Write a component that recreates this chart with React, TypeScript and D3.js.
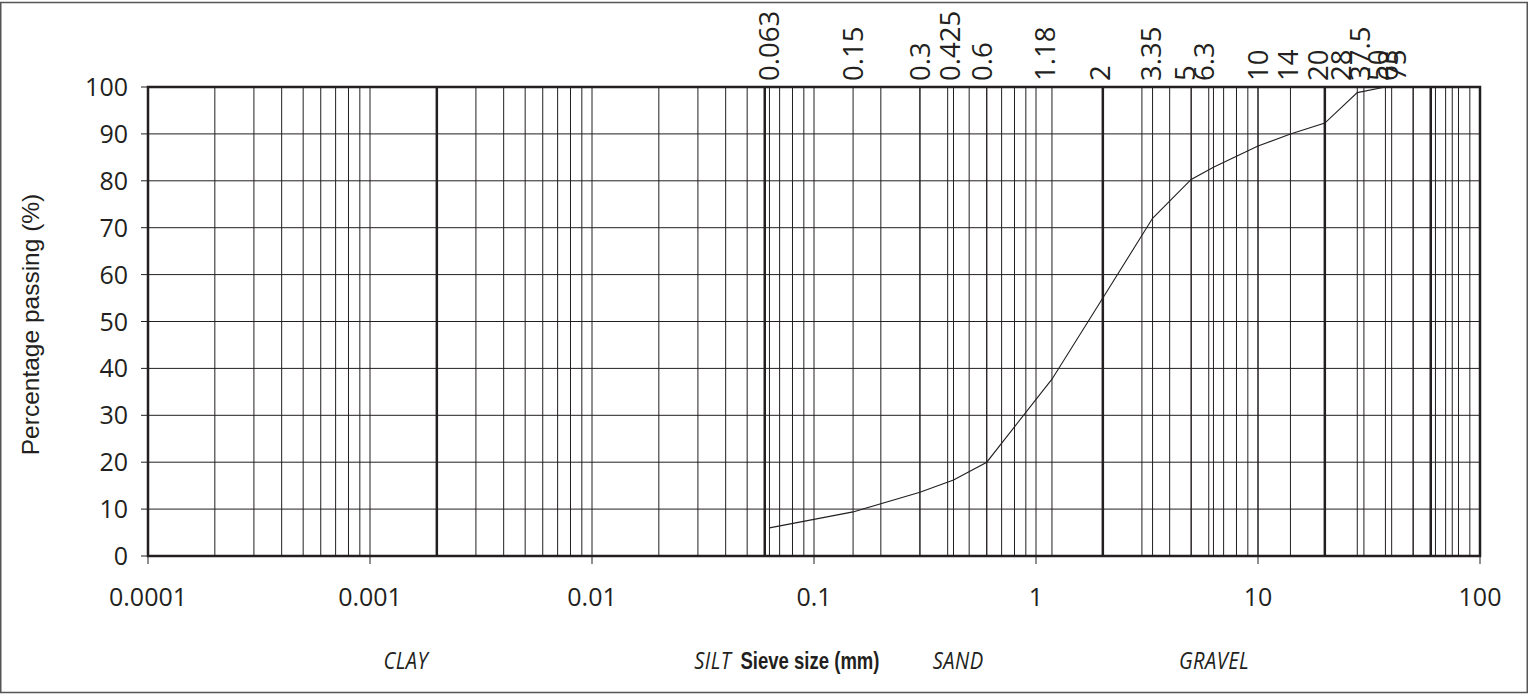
import { useRef, useEffect } from "react";
import * as d3 from "d3";

// sieve analysis, % passing by sieve size (mm)
const sieveSizes = [0.063, 0.15, 0.3, 0.425, 0.6, 1.18, 2, 3.35, 5, 6.3, 10, 14, 20, 28, 37.5, 50, 63, 75];
const percentPassing = [6.0, 9.4, 13.6, 16.2, 20.0, 37.7, 55.0, 72.0, 80.3, 82.9, 87.4, 90.0, 92.3, 98.8, 100, 100, 100, 100];
// where each sieve label sits along the top (mm), they crowd left at the coarse end
const sieveLabelAt = [0.063, 0.15, 0.3, 0.41, 0.57, 1.1, 1.95, 3.3, 4.7, 5.7, 10, 13.6, 18.6, 23.6, 28.8, 34.6, 38.6, 41.8];
const boundaries = [0.002, 0.06, 2, 20, 60];
const decadeTicks = [0.0001, 0.001, 0.01, 0.1, 1, 10, 100];
const decadeLabels = ["0.0001", "0.001", "0.01", "0.1", "1", "10", "100"];
const yTicks = [0, 10, 20, 30, 40, 50, 60, 70, 80, 90, 100];
const soilClasses = ["CLAY", "SILT", "SAND", "GRAVEL"];
const soilLabelAt = [0.00145, 0.035, 0.446, 6.34];

const W = 1528;
const H = 694;
const NUM_FONT = "'Open Sans', 'DejaVu Sans', sans-serif";
const ARIAL = "'Liberation Sans', Arial, sans-serif";
const INK = "#231f20";

export default function App() {
  const ref = useRef<SVGSVGElement>(null);

  useEffect(() => {
    if (!ref.current) return;
    const svg = d3.select(ref.current);
    svg.selectAll("*").remove();

    const mg = { t: 87, r: 48, b: 138, l: 148 };
    const x = d3.scaleLog().domain([0.0001, 100]).range([mg.l, W - mg.r]);
    const y = d3.scaleLinear().domain([0, 100]).range([H - mg.b, mg.t]);

    // outer border
    svg.append("rect")
      .attr("x", 0.75).attr("y", 2.5).attr("width", W - 1.5).attr("height", H - 4)
      .attr("fill", "#fff").attr("stroke", "#555").attr("stroke-width", 1.5);

    // horizontal grid + y ticks
    yTicks.forEach((t) => {
      svg.append("line")
        .attr("x1", mg.l - 7).attr("x2", W - mg.r)
        .attr("y1", y(t)).attr("y2", y(t))
        .attr("stroke", INK).attr("stroke-width", 1);
    });

    // vertical grid: every 1..9 of each decade, plus the sieve sizes
    const minor = x.ticks();
    [...minor, ...sieveSizes].forEach((v) => {
      svg.append("line")
        .attr("x1", x(v)).attr("x2", x(v))
        .attr("y1", y(0)).attr("y2", y(100))
        .attr("stroke", INK).attr("stroke-width", 1);
    });

    boundaries.forEach((v) => {
      svg.append("line")
        .attr("x1", x(v)).attr("x2", x(v))
        .attr("y1", y(0)).attr("y2", y(100))
        .attr("stroke", INK).attr("stroke-width", 2.5);
    });

    // decade ticks below axis
    decadeTicks.forEach((v) => {
      svg.append("line")
        .attr("x1", x(v)).attr("x2", x(v))
        .attr("y1", y(0)).attr("y2", y(0) + 8)
        .attr("stroke", INK).attr("stroke-width", 1);
    });

    // plot frame
    svg.append("rect")
      .attr("x", mg.l).attr("y", mg.t)
      .attr("width", W - mg.r - mg.l).attr("height", y(0) - mg.t)
      .attr("fill", "none").attr("stroke", INK).attr("stroke-width", 2.5);

    // grading curve
    const pts = sieveSizes.map((s, i) => ({ s, p: percentPassing[i] }));
    svg.append("path").datum(pts)
      .attr("d", d3.line<typeof pts[0]>().x((d) => x(d.s)).y((d) => y(d.p)))
      .attr("fill", "none").attr("stroke", INK).attr("stroke-width", 1.1);

    // y labels
    yTicks.forEach((t) => {
      svg.append("text")
        .attr("x", mg.l - 20).attr("y", y(t)).attr("dy", "0.36em")
        .attr("text-anchor", "end")
        .attr("font-family", NUM_FONT).attr("font-size", 25).attr("fill", INK)
        .text(t);
    });

    // x decade labels
    decadeTicks.forEach((v, i) => {
      svg.append("text")
        .attr("x", x(v)).attr("y", y(0) + 50)
        .attr("text-anchor", "middle")
        .attr("font-family", NUM_FONT).attr("font-size", 25).attr("fill", INK)
        .text(decadeLabels[i]);
    });

    // sieve labels along top, rotated
    sieveSizes.forEach((s, i) => {
      const lx = x(sieveLabelAt[i]);
      svg.append("text")
        .attr("transform", `translate(${lx},${mg.t - 6}) rotate(-90)`)
        .attr("dy", "0.36em")
        .attr("text-anchor", "start")
        .attr("font-family", NUM_FONT).attr("font-size", 27.5).attr("fill", INK)
        .text(String(s));
    });

    // axis titles
    svg.append("text")
      .attr("transform", `translate(39,${(mg.t + y(0)) / 2 + 3}) rotate(-90)`)
      .attr("text-anchor", "middle")
      .attr("font-family", ARIAL).attr("font-size", 24.5).attr("fill", INK)
      .text("Percentage passing (%)");

    svg.append("text")
      .attr("x", 810).attr("y", 669)
      .attr("text-anchor", "middle")
      .attr("font-family", ARIAL).attr("font-weight", "bold").attr("font-size", 24)
      .attr("textLength", 139).attr("lengthAdjust", "spacingAndGlyphs")
      .attr("fill", INK)
      .text("Sieve size (mm)");

    // soil class names, narrow italic
    soilClasses.forEach((c, i) => {
      svg.append("text")
        .attr("transform", `translate(${x(soilLabelAt[i])},669) scale(0.84,1)`)
        .attr("text-anchor", "middle")
        .attr("font-family", NUM_FONT).attr("font-style", "italic").attr("font-size", 24)
        .attr("letter-spacing", 0.5)
        .attr("fill", INK)
        .text(c);
    });
  }, []);

  return (
    <div style={{ position: "fixed", left: 0, top: 0, width: W, height: H, background: "#fff" }}>
      <svg ref={ref} width={W} height={H} style={{ display: "block" }} />
    </div>
  );
}
